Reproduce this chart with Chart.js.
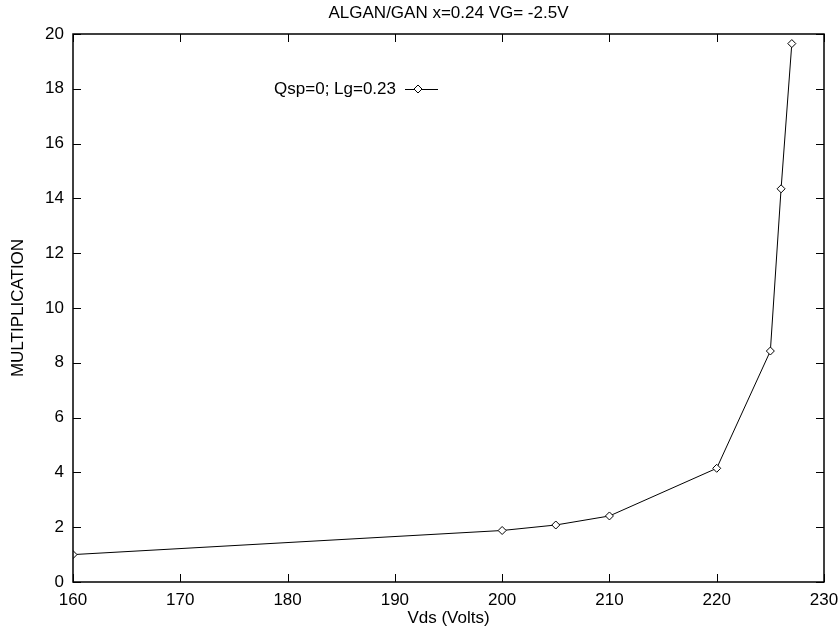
<!DOCTYPE html>
<html>
<head>
<meta charset="utf-8">
<script src="https://cdn.jsdelivr.net/npm/chart.js@4/dist/chart.umd.min.js"></script>
<style>
  html, body { margin: 0; padding: 0; background: #fff; }
  #wrap { width: 840px; height: 629px; }
</style>
</head>
<body>
<div id="wrap"><canvas id="chart-data"></canvas></div>
<script>
// values
var vds = [160, 200, 205, 210, 220, 225, 226, 227];
var multiplication = [1.0, 1.88, 2.08, 2.41, 4.15, 8.43, 14.35, 19.65];
var seriesLabel = "Qsp=0; Lg=0.23";
var titleText = "ALGAN/GAN x=0.24 VG= -2.5V";

var FONT = "'Liberation Sans', Arial, Helvetica, sans-serif";
var SIZE = 17;

// gnuplot-style frame: box round the plot + inward ticks on all four sides
var frameTicks = {
    id: "frameTicks",
    afterDraw: function (chart) {
        var c = chart.ctx, a = chart.chartArea;
        var xs = chart.scales.x, ys = chart.scales.y;
        var len = 8;
        c.save();
        c.strokeStyle = "#000";
        c.lineWidth = 1;
        c.beginPath();
        xs.ticks.forEach(function (t) {
            var px = Math.round(xs.getPixelForValue(t.value)) + 0.5;
            c.moveTo(px, a.bottom); c.lineTo(px, a.bottom - len);
            c.moveTo(px, a.top); c.lineTo(px, a.top + len);
        });
        ys.ticks.forEach(function (t) {
            var py = Math.round(ys.getPixelForValue(t.value)) + 0.5;
            c.moveTo(a.left, py); c.lineTo(a.left + len, py);
            c.moveTo(a.right, py); c.lineTo(a.right - len, py);
        });
        c.stroke();
        c.lineWidth = 1.5;
        c.strokeRect(a.left, a.top, a.right - a.left, a.bottom - a.top);
        c.restore();
    }
};

// legend inside the plot, text right-aligned before the sample
var innerLegend = {
    id: "innerLegend",
    afterDraw: function (chart) {
        var c = chart.ctx;
        var ds = chart.data.datasets[0];
        var tx = 396, ty = 89;
        c.save();
        c.font = SIZE + "px " + FONT;
        c.fillStyle = "#000";
        c.textAlign = "right";
        c.textBaseline = "middle";
        c.fillText(ds.label, tx, ty);
        c.strokeStyle = "#000";
        c.lineWidth = 1;
        c.beginPath();
        c.moveTo(405, ty + 0.5); c.lineTo(438, ty + 0.5);
        c.stroke();
        // diamond marker
        var mx = 418, r = 4;
        c.beginPath();
        c.moveTo(mx, ty - r); c.lineTo(mx + r, ty); c.lineTo(mx, ty + r); c.lineTo(mx - r, ty); c.closePath();
        c.fillStyle = "#fff";
        c.fill();
        c.stroke();
        c.restore();
    }
};

var points = vds.map(function (v, i) { return { x: v, y: multiplication[i] }; });

var ctx = document.getElementById("chart-data").getContext("2d");
var chart = new Chart(ctx, {
    type: "scatter",
    data: {
        datasets: [
            {
                label: seriesLabel,
                data: points,
                showLine: true,
                borderColor: "#000",
                borderWidth: 1,
                pointStyle: "rectRot",
                pointRadius: 4,
                pointBackgroundColor: "#fff",
                pointBorderColor: "#000",
                pointBorderWidth: 1,
            },
        ],
    },
    options: {
        responsive: true,
        maintainAspectRatio: false,
        animation: false,
        layout: {
            padding: { right: 16 },
        },
        plugins: {
            legend: { display: false },
            tooltip: { enabled: false },
            title: {
                display: true,
                fullSize: false,
                text: titleText,
                color: "#000",
                font: { family: FONT, size: SIZE, weight: "normal" },
                padding: { top: 3, bottom: 10.6 },
            },
        },
        scales: {
            x: {
                type: "linear",
                min: 160,
                max: 230,
                grid: { display: false, drawTicks: false },
                border: { display: false },
                ticks: {
                    stepSize: 10,
                    color: "#000",
                    padding: 8,
                    maxRotation: 0,
                    font: { family: FONT, size: SIZE },
                },
                title: {
                    display: true,
                    text: "Vds (Volts)",
                    color: "#000",
                    font: { family: FONT, size: SIZE },
                    padding: 0,
                },
                afterFit: function (s) {
                    s.height = 47;
                    s.paddingLeft = 0;
                    s.paddingRight = 0;
                },
            },
            y: {
                min: 0,
                max: 20,
                grid: { display: false, drawTicks: false },
                border: { display: false },
                ticks: {
                    stepSize: 2,
                    color: "#000",
                    padding: 9,
                    font: { family: FONT, size: SIZE },
                },
                title: {
                    display: true,
                    text: "MULTIPLICATION",
                    color: "#000",
                    font: { family: FONT, size: SIZE },
                    padding: { top: 8, bottom: 0 },
                },
                afterFit: function (s) { s.width = 73; },
            },
        },
    },
    plugins: [frameTicks, innerLegend],
});
</script>
</body>
</html>
